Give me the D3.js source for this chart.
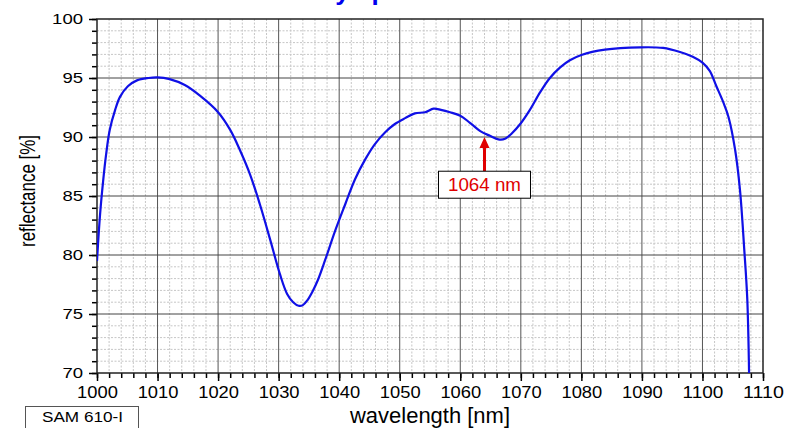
<!DOCTYPE html>
<html>
<head>
<script src="https://d3js.org/d3.v7.min.js"></script>
<style>
body { margin: 0; background: #fff; }
text { font-family: "Liberation Sans", Arial, sans-serif; }
</style>
</head>
<body>
<div id="chart"></div>
</body>
<script>
var width = 787;
var height = 428;

// spectrum
var wavelength = [1000.0, 1000.5, 1001.0, 1001.5, 1002.1, 1003.0, 1003.8, 1005.1, 1006.6, 1008.5,
  1010.0, 1012.0, 1014.5, 1017.0, 1020.0, 1022.0, 1023.6, 1025.3, 1026.9, 1028.6,
  1030.2, 1031.4, 1032.4, 1033.3, 1034.0, 1034.8, 1035.6, 1036.5, 1037.7, 1039.3,
  1041.0, 1042.6, 1044.3, 1045.9, 1047.6, 1049.2, 1050.9, 1052.5, 1054.2, 1055.6,
  1056.8, 1058.3, 1060.0, 1061.6, 1063.3, 1064.9, 1066.3, 1067.4, 1068.5, 1069.9,
  1071.5, 1073.2, 1074.8, 1076.5, 1078.1, 1080.0, 1083.9, 1089.7, 1093.5, 1096.3,
  1098.4, 1100.0, 1101.2, 1102.3, 1103.4, 1104.3, 1105.4, 1106.2, 1106.9, 1107.4, 1107.7];
var reflectance = [79.5, 83.4, 86.2, 88.5, 90.6, 92.3, 93.4, 94.3, 94.8, 95.0,
  95.05, 94.9, 94.4, 93.5, 92.1, 90.6, 88.9, 86.8, 84.3, 81.3,
  78.4, 76.7, 76.0, 75.7, 75.75, 76.2, 76.9, 77.9, 79.6, 82.0,
  84.3, 86.4, 88.1, 89.4, 90.4, 91.1, 91.6, 92.0, 92.1, 92.4,
  92.3, 92.1, 91.8, 91.2, 90.5, 90.1, 89.8, 89.85, 90.3, 91.1,
  92.3, 93.8, 95.0, 95.9, 96.5, 96.95, 97.4, 97.6, 97.55, 97.2,
  96.8, 96.3, 95.6, 94.3, 93.0, 91.7, 88.9, 85.5, 80.5, 76.3, 70.0];

var xTicks = [1000, 1010, 1020, 1030, 1040, 1050, 1060, 1070, 1080, 1090, 1100, 1110];
var yTicks = [70, 75, 80, 85, 90, 95, 100];
var markerWavelength = 1064;
var markerLabel = "1064 nm";

var margin = {left: 97, top: 19, right: 24, bottom: 55};
var w = width - margin.left - margin.right;
var h = height - margin.top - margin.bottom;

var svg = d3.select("#chart")
  .append("svg")
  .attr("width", width)
  .attr("height", height);

var x = d3.scaleLinear().domain([1000, 1110]).range([0, w]);
var y = d3.scaleLinear().domain([70, 100]).range([h, 0]);

// title, mostly above the visible area (as in the original)
svg.append("text")
  .attr("x", 211)
  .attr("y", -0.5)
  .style("font-size", "26px")
  .style("font-weight", "bold")
  .style("fill", "#0000ee")
  .text("Reflectivity spectrum");

var g = svg.append("g")
  .attr("transform", "translate(" + margin.left + "," + margin.top + ")");

g.append("rect").attr("width", w).attr("height", h).attr("fill", "#fff");

// minor dotted grid
g.append("g").selectAll("line")
  .data(d3.range(1002, 1110, 2).filter(function (d) { return d % 10 != 0; }))
  .enter().append("line")
  .attr("x1", x).attr("x2", x)
  .attr("y1", 0).attr("y2", h)
  .style("stroke", "#c6c6c6")
  .style("stroke-dasharray", "2,1.5");

g.append("g").selectAll("line")
  .data(d3.range(71, 100, 1).filter(function (d) { return d % 5 != 0; }))
  .enter().append("line")
  .attr("y1", y).attr("y2", y)
  .attr("x1", 0).attr("x2", w)
  .style("stroke", "#c6c6c6")
  .style("stroke-dasharray", "2,1.5");

// major grid
g.append("g").selectAll("line")
  .data(xTicks.slice(1, -1))
  .enter().append("line")
  .attr("x1", x).attr("x2", x)
  .attr("y1", 0).attr("y2", h)
  .style("stroke", "#555");

g.append("g").selectAll("line")
  .data(yTicks.slice(1, -1))
  .enter().append("line")
  .attr("y1", y).attr("y2", y)
  .attr("x1", 0).attr("x2", w)
  .style("stroke", "#444");

// axes
var xMinor = g.append("g")
  .attr("transform", "translate(0," + h + ")")
  .call(d3.axisBottom(x).tickValues(d3.range(1000, 1111, 2)).tickSize(5).tickFormat(""));
var xAxis = g.append("g")
  .attr("transform", "translate(0," + h + ")")
  .call(d3.axisBottom(x).tickValues(xTicks).tickSize(8).tickPadding(5).tickFormat(d3.format("d")));
xAxis.selectAll("text")
  .style("font-size", "17px").style("fill", "#000")
  .attr("textLength", function (d) { return String(d).length * 10.2; })
  .attr("lengthAdjust", "spacingAndGlyphs");

var yMinor = g.append("g")
  .call(d3.axisLeft(y).tickValues(d3.range(70, 101, 1)).tickSize(5).tickFormat(""));
var yAxis = g.append("g")
  .call(d3.axisLeft(y).tickValues(yTicks).tickSize(8).tickPadding(6));
yAxis.selectAll("text")
  .style("font-size", "15px").style("fill", "#000")
  .attr("textLength", function (d) { return String(d).length * 10.3; })
  .attr("lengthAdjust", "spacingAndGlyphs");

[xMinor, xAxis, yMinor, yAxis].forEach(function (a) {
  a.select(".domain").remove();
  a.selectAll("line").style("stroke", "#000").style("stroke-width", 1.5);
});

g.append("rect")
  .attr("width", w).attr("height", h)
  .attr("fill", "none")
  .style("stroke", "#222")
  .style("stroke-width", 1.5);

// spectrum
g.append("clipPath").attr("id", "clip")
  .append("rect").attr("width", w).attr("height", h);

var line = d3.line()
  .x(function (d, i) { return x(wavelength[i]); })
  .y(function (d) { return y(d); })
  .curve(d3.curveCatmullRom);

g.append("path")
  .datum(reflectance)
  .attr("clip-path", "url(#clip)")
  .attr("d", line)
  .attr("fill", "none")
  .style("stroke", "#1010e6")
  .style("stroke-width", 2.2);

// 1064 nm marker
var mx = x(markerWavelength);
g.append("line")
  .attr("x1", mx).attr("x2", mx)
  .attr("y1", y(90.0) + 10).attr("y2", y(87.1))
  .style("stroke", "#e00000")
  .style("stroke-width", 3);
g.append("path")
  .attr("d", "M" + mx + "," + y(90.0) + "l-5,11l10,0z")
  .attr("fill", "#e00000");
g.append("rect")
  .attr("x", mx - 46).attr("y", y(87.1))
  .attr("width", 92).attr("height", 27)
  .attr("fill", "#fff")
  .style("stroke", "#000");
g.append("text")
  .attr("x", mx).attr("y", y(87.1) + 20)
  .attr("text-anchor", "middle")
  .attr("textLength", 73)
  .attr("lengthAdjust", "spacingAndGlyphs")
  .style("font-size", "18px")
  .style("fill", "#e00000")
  .text(markerLabel);

// axis titles
svg.append("text")
  .attr("transform", "translate(35,191) rotate(-90)")
  .attr("text-anchor", "middle")
  .attr("textLength", 112)
  .attr("lengthAdjust", "spacingAndGlyphs")
  .style("font-size", "22px")
  .text("reflectance [%]");

svg.append("text")
  .attr("x", margin.left + w / 2)
  .attr("y", 423)
  .attr("text-anchor", "middle")
  .attr("textLength", 160)
  .attr("lengthAdjust", "spacingAndGlyphs")
  .style("font-size", "22px")
  .text("wavelength [nm]");

// instrument label
svg.append("rect")
  .attr("x", 25.5).attr("y", 406.5)
  .attr("width", 113).attr("height", 30)
  .attr("fill", "#fff")
  .style("stroke", "#555");
svg.append("text")
  .attr("x", 42).attr("y", 422)
  .attr("textLength", 81)
  .attr("lengthAdjust", "spacingAndGlyphs")
  .style("font-size", "15px")
  .text("SAM 610-I");
</script>
</html>
